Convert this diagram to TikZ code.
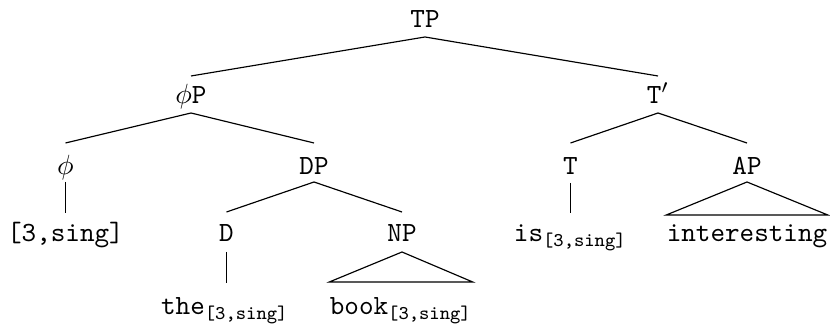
\documentclass[tikz,border=0pt]{standalone}
\usetikzlibrary{calc}
\begin{document}
\begin{tikzpicture}[x=0.36pt,y=-0.36pt,
  lbl/.style={anchor=base,inner sep=0pt,font=\ttfamily},
  br/.style={line width=0.42pt}]
\useasboundingbox (0,0) rectangle (830,324);
% labels
\node[lbl] (TP) at (425,28) {TP};
\node[lbl] (phiP) at (191,104) {$\phi$P};
\node[lbl] (Tbar) at (658,104) {T$'$};
\node[lbl] (phi) at (65.5,175) {$\phi$};
\node[lbl] (DP) at (314,175) {DP};
\node[lbl] (T) at (570.5,175) {T};
\node[lbl] (AP) at (747,175) {AP};
\node[lbl] (feat) at (65.5,242) {[3,sing]};
\node[lbl] (D) at (226.5,242) {D};
\node[lbl] (NP) at (402,242) {NP};
\node[lbl] (is) at (570.5,242) {is\textsubscript{[3,sing]}};
\node[lbl] (interesting) at (747,242) {interesting};
\node[lbl] (the) at (225,315) {the\textsubscript{[3,sing]}};
\node[lbl] (book) at (401,315) {book\textsubscript{[3,sing]}};
% branches
\draw[br] ($(TP.base)+(0,9)$) -- ($(phiP.base)+(0,-28)$);
\draw[br] ($(TP.base)+(0,9)$) -- ($(Tbar.base)+(0,-28)$);
\draw[br] ($(phiP.base)+(0,9)$) -- ($(phi.base)+(0,-32)$);
\draw[br] ($(phiP.base)+(0,9)$) -- ($(DP.base)+(0,-32)$);
\draw[br] ($(Tbar.base)+(0,9)$) -- ($(T.base)+(0,-32)$);
\draw[br] ($(Tbar.base)+(0,9)$) -- ($(AP.base)+(0,-32)$);
\draw[br] ($(phi.base)+(0,7)$) -- ($(feat.base)+(0,-29)$);
\draw[br] ($(DP.base)+(0,7)$) -- ($(D.base)+(0,-30)$);
\draw[br] ($(DP.base)+(0,7)$) -- ($(NP.base)+(0,-30)$);
\draw[br] ($(T.base)+(0,8)$) -- ($(is.base)+(0,-29)$);
\draw[br] ($(AP.base)+(0,7)$) -- ($(interesting.base west)+(0,-27)$)
  -- ($(interesting.base east)+(0,-27)$) -- cycle;
\draw[br] ($(D.base)+(0,10)$) -- ($(D.base |- the.base)+(0,-32)$);
\draw[br] ($(NP.base)+(0,10)$) -- ($(book.base west)+(0,-33)$)
  -- ($(book.base east)+(0,-33)$) -- cycle;
\end{tikzpicture}
\end{document}
